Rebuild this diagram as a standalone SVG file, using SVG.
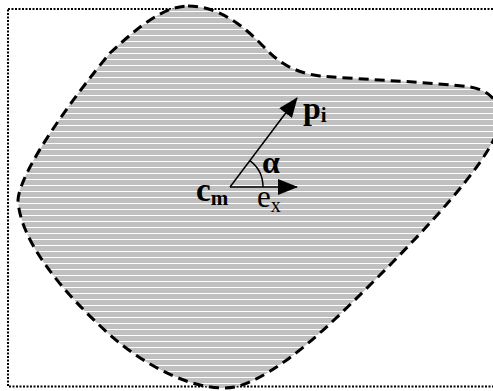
<svg xmlns="http://www.w3.org/2000/svg" width="493" height="391" viewBox="0 0 493 391">
  <style>
    .frame { fill: none; stroke: #000; stroke-width: 2; stroke-dasharray: 2 1.5; }
    .outline { fill: url(#hatch); stroke: #000; stroke-width: 3; stroke-dasharray: 10 6; }
    .vec { stroke: #000; stroke-width: 1.5; fill: none; }
    .lbl { font-family: "Liberation Serif", "Times New Roman", serif; fill: #000; }
    .b { font-weight: bold; }
  </style>
  <defs>
    <pattern id="hatch" patternUnits="userSpaceOnUse" width="10" height="6">
      <rect width="10" height="6" fill="#c0c0c0"/>
      <rect y="5" width="10" height="1" fill="#fff"/>
    </pattern>
    <marker id="arr" viewBox="0 0 20 16" refX="19" refY="8" markerWidth="20" markerHeight="16" markerUnits="userSpaceOnUse" orient="auto">
      <path d="M0,0 L20,8 L0,16 Z" fill="#000"/>
    </marker>
  </defs>
  <rect class="frame" x="8" y="9" width="490" height="377.5"/>
  <g id="region">
    <path class="outline" d="M188,6 C215,6 240,22 262,45 C278,62 292,72 320,76 C370,80 430,82 470,87 C500,92 505,115 495,137 C480,170 430,225 380,275 C330,325 280,375 235,387 C200,393 150,370 110,335 C60,290 20,240 18,200 C20,170 75,95 110,53 C140,25 165,6 188,6 Z"/>
  </g>
  <g id="connectors">
    <line class="vec" x1="230" y1="187" x2="297" y2="187" marker-end="url(#arr)"/>
    <line class="vec" x1="230" y1="187" x2="297" y2="98" marker-end="url(#arr)"/>
    <path class="vec" d="M249.9,160.6 A33,33 0 0 1 263,187"/>
  </g>
  <g id="cm">
    <text class="lbl b" x="196" y="201" font-size="33">c<tspan font-size="21" dy="4">m</tspan></text>
  </g>
  <g id="alpha">
    <text class="lbl b" x="262" y="173" font-size="32">α</text>
  </g>
  <g id="ex">
    <text class="lbl" x="257" y="207" font-size="31">e<tspan font-size="20" dy="5">x</tspan></text>
  </g>
  <g id="pi">
    <text class="lbl b" x="303" y="119" font-size="32">p<tspan font-size="21" dy="3">i</tspan></text>
  </g>
</svg>
